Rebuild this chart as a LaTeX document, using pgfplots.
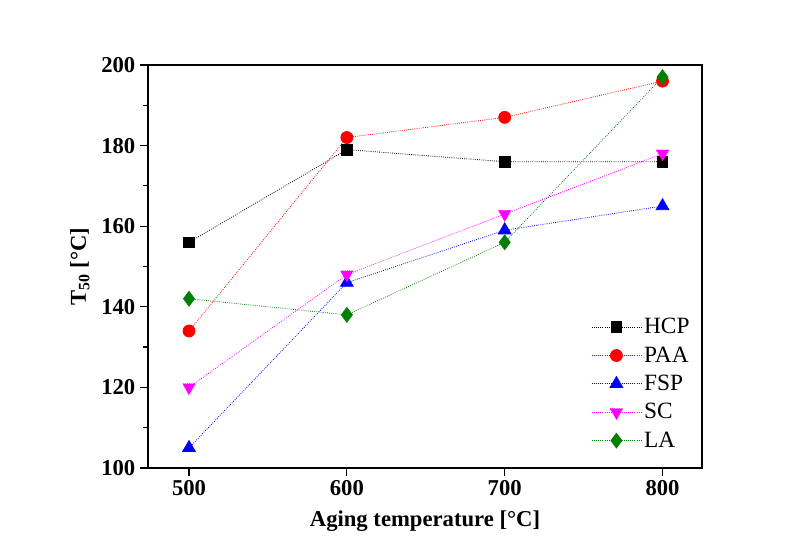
\documentclass[border=0pt]{standalone}
\usepackage{pgfplots}
\pgfplotsset{compat=1.18}
\usepackage{fontspec}
\setmainfont{Liberation Serif}
\definecolor{lagreen}{RGB}{0,128,0}
\definecolor{scmag}{RGB}{255,0,255}

\begin{document}
\begin{tikzpicture}
\begin{axis}[
  at={(0,0)}, anchor=south west,
  scale only axis,
  width=415.5pt, height=302.25pt,
  xmin=474, xmax=825,
  ymin=100, ymax=200,
  xtick={500,600,700,800},
  ytick={100,120,140,160,180,200},
  minor y tick num=1,
  tick align=outside,
  xtick pos=bottom, ytick pos=left,
  major tick length=6pt, minor tick length=3.5pt,
  axis line style={line width=1.1pt},
  every tick/.style={line width=0.9pt, black},
  /pgf/number format/assume math mode=true,
  ticklabel style={font=\fontsize{17}{20}\selectfont\bfseries},
  xlabel={\textbf{Aging temperature [°C]}},
  ylabel={\textbf{T\textsubscript{50} [°C]}},
  label style={font=\fontsize{17}{20}\selectfont},
  xlabel style={yshift=-4pt},
  ylabel style={yshift=2pt},
  legend style={draw=none, fill=none, at={(0.99,0.385)}, anchor=north east,
    font=\fontsize{17.5}{20}\selectfont, row sep=4.2pt},
  legend cell align=left,
  legend image code/.code={\draw[mark repeat=2,mark phase=2] plot coordinates {(0cm,0cm) (0.65cm,0cm) (1.3cm,0cm)};},
  every axis plot/.append style={densely dotted, line width=0.6pt, mark options={solid}},
]
\addplot[black, mark=square*, mark size=4pt] coordinates {(500,156) (600,179) (700,176) (800,176)};
\addlegendentry{HCP}
\addplot[red, mark=*, mark size=4.5pt] coordinates {(500,134) (600,182) (700,187) (800,196)};
\addlegendentry{PAA}
\addplot[blue, mark=triangle*, mark size=5.5pt] coordinates {(500,105) (600,146) (700,159) (800,165)};
\addlegendentry{FSP}
\addplot[scmag, mark=triangle*, mark size=5.5pt, mark options={rotate=180}] coordinates {(500,120) (600,148) (700,163) (800,178)};
\addlegendentry{SC}
\addplot[lagreen, mark=diamond*, mark size=5.5pt] coordinates {(500,142) (600,138) (700,156) (800,197)};
\addlegendentry{LA}
\end{axis}
\useasboundingbox (-111pt,-65.25pt) rectangle (489pt,351pt);
\end{tikzpicture}
\end{document}
